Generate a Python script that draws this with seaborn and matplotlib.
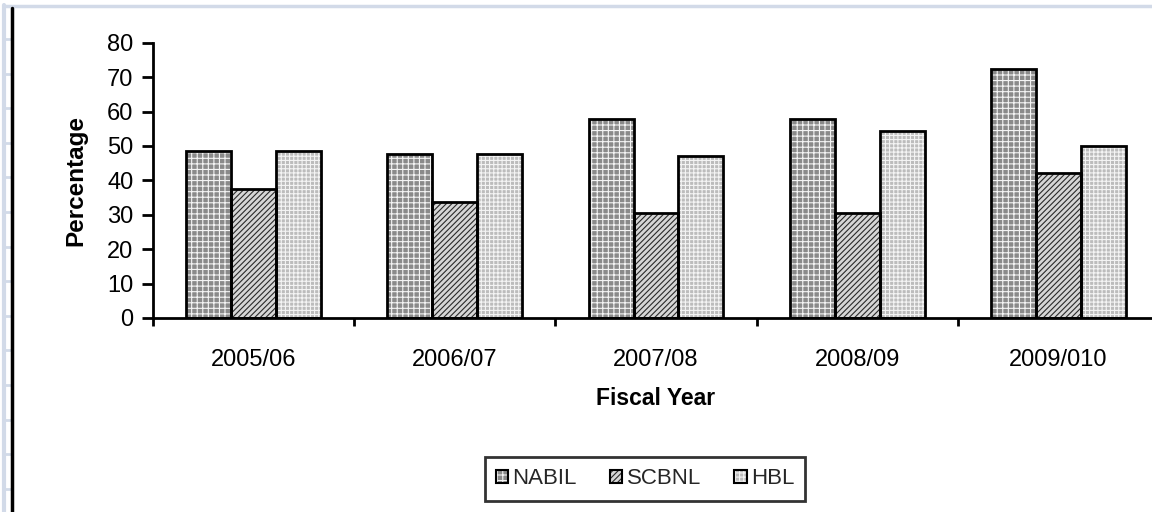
import matplotlib
matplotlib.use("Agg")
import matplotlib.pyplot as plt
import seaborn as sns
import pandas as pd
from matplotlib.patches import Patch, Rectangle
from matplotlib.lines import Line2D

years = ["2005/06", "2006/07", "2007/08", "2008/09", "2009/010"]
banks = ["NABIL", "SCBNL", "HBL"]
nabil = [48.5, 47.8, 57.8, 57.8, 72.3]
scbnl = [37.5, 33.8, 30.4, 30.4, 42.1]
hbl = [48.5, 47.8, 47.2, 54.3, 50.1]

df = pd.DataFrame({
    "Fiscal Year": years * 3,
    "Bank": [b for b in banks for _ in years],
    "Percentage": nabil + scbnl + hbl,
})

sns.set_theme(style="white")
plt.rcParams["font.family"] = ["Liberation Sans", "DejaVu Sans"]
plt.rcParams["hatch.linewidth"] = 0.8

faces = {"NABIL": "#8a8a8a", "SCBNL": "#d6d6d6", "HBL": "#bcbcbc"}
hatches = {"NABIL": "+++", "SCBNL": "//////", "HBL": "++++"}
hcols = {"NABIL": "#f4f4f4", "SCBNL": "#2a2a2a", "HBL": "#f4f4f4"}

fig = plt.figure(figsize=(11.52, 5.12), dpi=100)
ax = fig.add_axes([153 / 1152, 1 - 318 / 512, (1159 - 153) / 1152, (318 - 42.7) / 512])

sns.barplot(data=df, x="Fiscal Year", y="Percentage", hue="Bank",
            order=years, hue_order=banks, palette=faces, width=0.67,
            gap=0, edgecolor="black", linewidth=0, saturation=1,
            legend=False, ax=ax)

# hatch colour follows edge colour; draw black outlines from each bar's own geometry
for container, b in zip(ax.containers, banks):
    for p in list(container):
        p.set_hatch(hatches[b])
        p.set_edgecolor(hcols[b])
        p.set_linewidth(0)
        ax.add_patch(Rectangle(p.get_xy(), p.get_width(), p.get_height(),
                               fill=False, edgecolor="black", linewidth=2, zorder=p.get_zorder() + 0.1))

ax.set_ylim(0, 80)
ax.set_xlim(-0.5, 4.5)
ax.set_yticks(range(0, 81, 10))
ax.set_xticks(range(len(years)))
ax.set_xticklabels(years)
ax.set_xticks([i - 0.5 for i in range(len(years) + 1)], minor=True)

for s in ["top", "right"]:
    ax.spines[s].set_visible(False)
for s in ["left", "bottom"]:
    ax.spines[s].set_color("black")
    ax.spines[s].set_linewidth(2)
    ax.spines[s].set_zorder(5)

ax.tick_params(axis="y", which="major", direction="out", length=8, width=2,
               color="black", labelsize=17, pad=6, labelcolor="black", left=True)
ax.tick_params(axis="x", which="major", length=0, labelsize=17, pad=22, labelcolor="black")
ax.tick_params(axis="x", which="minor", direction="out", length=6, width=2,
               color="black", bottom=True)

ax.set_xlabel("Fiscal Year", fontsize=16.5, fontweight="bold", labelpad=12, color="black")
ax.set_ylabel("Percentage", fontsize=17.5, fontweight="bold", labelpad=14, color="black")

handles = []
for b in banks:
    fill = Patch(facecolor=faces[b], hatch=hatches[b], edgecolor=hcols[b], linewidth=0)
    outline = Patch(facecolor="none", edgecolor="black", linewidth=1.5)
    handles.append((fill, outline))
leg = fig.legend(handles, banks, loc="center", bbox_to_anchor=(645 / 1152, 1 - 479 / 512),
                 ncol=3, fontsize=16, frameon=True, fancybox=False,
                 handlelength=0.55, handleheight=0.55, handletextpad=0.2,
                 columnspacing=1.5, borderpad=0.5)
leg.get_frame().set_edgecolor("black")
leg.get_frame().set_linewidth(2)

# page frame decorations
frame_col = "#d2dae8"
fig.add_artist(Line2D([4 / 1152, 4 / 1152], [0, 1 - 5 / 512], color=frame_col, lw=3,
                      transform=fig.transFigure))
fig.add_artist(Line2D([4 / 1152, 1], [1 - 6 / 512, 1 - 6 / 512], color=frame_col, lw=2.5,
                      transform=fig.transFigure))
for k in range(14):
    yy = 1 - (39 + 34.6 * k) / 512
    if yy < 0:
        break
    fig.add_artist(Line2D([4 / 1152, 10 / 1152], [yy, yy], color=frame_col, lw=2,
                          transform=fig.transFigure))
fig.add_artist(Line2D([11.5 / 1152, 11.5 / 1152], [0, 1 - 8 / 512], color="black", lw=2.5,
                      transform=fig.transFigure))

fig.savefig("out.png", dpi=100, facecolor="white")
